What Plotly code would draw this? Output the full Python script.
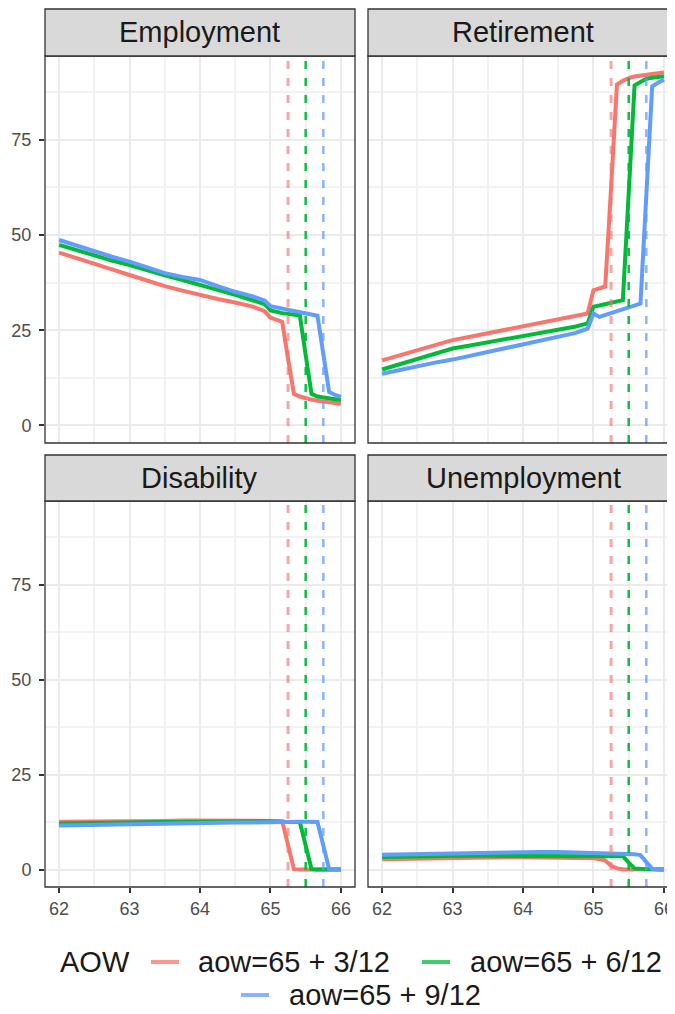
import plotly.graph_objects as go

# ---------------- data ----------------
AGE = [62.0, 62.25, 62.5, 62.75, 63.0, 63.25, 63.5, 63.75, 64.0, 64.25, 64.5, 64.75,
       64.917, 65.0, 65.083, 65.167, 65.25, 65.333, 65.417, 65.5, 65.583, 65.667,
       65.75, 65.833, 65.917, 66.0]

SERIES_NAMES = ["aow=65 + 3/12", "aow=65 + 6/12", "aow=65 + 9/12"]
AOW_AGES = [65.25, 65.5, 65.75]
PANELS = ["Employment", "Retirement", "Disability", "Unemployment"]

employment_3 = [45.4, 44.0, 42.5, 41.0, 39.5, 38.0, 36.6, 35.4, 34.2, 33.2, 32.3, 31.2,
                30.0, 28.3, 27.8, 27.2, 17.5, 8.3, 7.6, 7.1, 6.8, 6.5, 6.3, 6.1, 5.9, 5.7]
employment_6 = [47.4, 46.0, 44.6, 43.3, 42.1, 40.7, 39.4, 38.2, 37.0, 35.6, 34.3, 33.0,
                31.9, 30.2, 29.8, 29.5, 29.3, 29.1, 28.9, 18.5, 8.3, 7.6, 7.3, 7.1, 6.9, 6.7]
employment_9 = [48.7, 47.2, 45.6, 44.3, 43.0, 41.5, 40.0, 39.0, 38.2, 36.6, 35.1, 33.9,
                32.8, 31.3, 31.0, 30.6, 30.3, 30.0, 29.8, 29.5, 29.2, 28.8, 18.8, 8.8, 8.0, 7.5]

retirement_3 = [17.1, 18.4, 19.8, 21.1, 22.4, 23.3, 24.2, 25.1, 25.9, 26.8, 27.7, 28.6,
                29.4, 35.5, 36.0, 36.5, 62.5, 89.5, 90.5, 91.2, 91.6, 91.9, 92.1, 92.3, 92.5, 92.7]
retirement_6 = [14.7, 16.1, 17.5, 18.9, 20.2, 21.0, 21.8, 22.6, 23.4, 24.3, 25.1, 26.0,
                26.8, 31.2, 31.5, 31.8, 32.2, 32.5, 32.9, 61.0, 89.3, 90.2, 91.0, 91.3, 91.5, 91.7]
retirement_9 = [13.6, 14.6, 15.7, 16.5, 17.3, 18.3, 19.3, 20.2, 21.1, 22.1, 23.2, 24.3,
                25.4, 29.4, 28.5, 29.0, 29.6, 30.1, 30.6, 31.1, 31.5, 32.0, 60.5, 89.0, 90.0, 90.8]

disability_3 = [12.6, 12.6, 12.7, 12.7, 12.8, 12.8, 12.8, 12.9, 12.9, 12.9, 13.0, 13.0,
                13.0, 12.9, 12.8, 12.7, 6.4, 0.1, 0.0, 0.0, 0.0, 0.0, 0.0, 0.0, 0.0, 0.0]
disability_6 = [12.1, 12.2, 12.2, 12.3, 12.4, 12.4, 12.5, 12.5, 12.6, 12.6, 12.6, 12.7,
                12.7, 12.6, 12.6, 12.6, 12.5, 12.5, 12.5, 6.3, 0.1, 0.0, 0.0, 0.0, 0.0, 0.0]
disability_9 = [11.6, 11.7, 11.8, 11.9, 12.0, 12.1, 12.1, 12.2, 12.3, 12.3, 12.4, 12.4,
                12.5, 12.6, 12.6, 12.6, 12.6, 12.6, 12.6, 12.6, 12.6, 12.5, 6.3, 0.1, 0.0, 0.0]

unemployment_3 = [2.7, 2.8, 2.9, 3.0, 3.0, 3.1, 3.1, 3.2, 3.2, 3.2, 3.2, 3.2,
                  3.2, 3.0, 2.7, 2.4, 1.0, 0.3, 0.1, 0.1, 0.0, 0.0, 0.0, 0.0, 0.0, 0.0]
unemployment_6 = [3.3, 3.4, 3.4, 3.5, 3.5, 3.6, 3.6, 3.6, 3.7, 3.7, 3.7, 3.7,
                  3.7, 3.6, 3.6, 3.6, 3.6, 3.6, 3.5, 1.8, 0.3, 0.2, 0.2, 0.1, 0.1, 0.0]
unemployment_9 = [3.9, 4.0, 4.1, 4.2, 4.3, 4.3, 4.4, 4.5, 4.6, 4.6, 4.6, 4.5,
                  4.5, 4.4, 4.4, 4.3, 4.3, 4.2, 4.2, 4.1, 4.0, 3.8, 2.0, 0.2, 0.1, 0.0]

PANEL_DATA = {
    "Employment": [employment_3, employment_6, employment_9],
    "Retirement": [retirement_3, retirement_6, retirement_9],
    "Disability": [disability_3, disability_6, disability_9],
    "Unemployment": [unemployment_3, unemployment_6, unemployment_9],
}

X_TICKS = [62, 63, 64, 65, 66]
Y_TICKS = [0, 25, 50, 75]

# ---------------- style ----------------
OFF = 8                      # page body margin of the html page
W, H = 675 - OFF, 1014 - OFF
COLORS = ["#F8766D", "#00BA38", "#619CFF"]
VLINE_STYLE = [("rgba(248,118,109,0.65)", 3), ("rgba(0,186,56,0.95)", 2.5), ("rgba(97,156,255,0.75)", 2.5)]
FONT = "Liberation Sans, Arial, sans-serif"
GRID = "#EBEBEB"
BORDER = "#333333"


def px(x):
    return (x - OFF) / W


def py(y):
    return 1 - (y - OFF) / H


# panel geometry in window pixels: (x0, x1, strip_top, panel_top, panel_bottom)
GEOM = [
    (45, 355, 9, 56, 443),
    (368, 690, 9, 56, 443),
    (45, 355, 455, 501, 887),
    (368, 690, 455, 501, 887),
]
XRANGE_LEFT = [61.8, 66.2]
XRANGE_RIGHT = [61.8, 66.157]
YRANGE = [-4.6, 97.0]

fig = go.Figure()
shapes = []
annotations = []

for i, panel in enumerate(PANELS):
    n = i + 1
    xa = "x" if n == 1 else f"x{n}"
    ya = "y" if n == 1 else f"y{n}"
    for s, name in enumerate(SERIES_NAMES):
        fig.add_trace(go.Scatter(
            x=AGE, y=PANEL_DATA[panel][s], mode="lines", name=name,
            line=dict(color=COLORS[s], width=4), xaxis=xa, yaxis=ya,
            showlegend=False, legendgroup=name,
        ))

    x0, x1, st, pt, pb = GEOM[i]
    left = i in (0, 2)
    bottom = i in (2, 3)
    xr = XRANGE_LEFT if left else XRANGE_RIGHT
    xd = [px(x0), min(1.0, px(x1))]
    yd = [py(pb), py(pt)]

    xkey = "xaxis" if n == 1 else f"xaxis{n}"
    ykey = "yaxis" if n == 1 else f"yaxis{n}"
    fig.update_layout(**{
        xkey: dict(
            domain=xd, range=xr, anchor=ya, tickvals=X_TICKS,
            showgrid=True, gridcolor=GRID, gridwidth=2, zeroline=False,
            minor=dict(dtick=0.5, tick0=62, showgrid=True, gridcolor="#F2F2F2", gridwidth=1.5),
            showticklabels=bottom, ticks="outside" if bottom else "",
            ticklen=5, tickwidth=1.5, tickcolor=BORDER,
            tickfont=dict(family=FONT, size=18, color="#4D4D4D"),
            ticklabeloverflow="allow", showline=False, fixedrange=True,
        ),
        ykey: dict(
            domain=yd, range=YRANGE, anchor=xa, tickvals=Y_TICKS,
            showgrid=True, gridcolor=GRID, gridwidth=2, zeroline=False,
            minor=dict(tickvals=[12.5, 37.5, 62.5, 87.5], showgrid=True, gridcolor="#F2F2F2", gridwidth=1.5),
            showticklabels=left, ticks="outside" if left else "",
            ticklen=5, tickwidth=1.5, tickcolor=BORDER, ticklabelstandoff=4,
            tickfont=dict(family=FONT, size=18, color="#4D4D4D"),
            showline=False, fixedrange=True,
        ),
    })

    # AOW reference lines
    for a, (c, w) in zip(AOW_AGES, VLINE_STYLE):
        shapes.append(dict(type="line", xref=xa, yref=f"{ya} domain", x0=a, x1=a, y0=0, y1=1,
                           line=dict(color=c, width=w, dash="8px,9px"), layer="above"))

    # panel border
    shapes.append(dict(type="rect", xref="paper", yref="paper", x0=px(x0), x1=px(x1),
                       y0=py(pb), y1=py(pt), line=dict(color=BORDER, width=1.3),
                       fillcolor="rgba(0,0,0,0)", layer="above"))
    # strip
    shapes.append(dict(type="rect", xref="paper", yref="paper", x0=px(x0), x1=px(x1),
                       y0=py(pt), y1=py(st), line=dict(color=BORDER, width=1.3),
                       fillcolor="#D9D9D9", layer="above"))
    cx = (x0 + x1) / 2 if left else 523
    annotations.append(dict(text=panel, xref="paper", yref="paper", x=px(cx),
                            y=py((st + pt) / 2), xanchor="center", yanchor="middle",
                            showarrow=False, font=dict(family=FONT, size=29, color="#1A1A1A")))

# ---------------- legend (drawn manually, ggplot-style, wrapping to 2 rows) ----------------
LEG_FONT = dict(family=FONT, size=29, color="#1A1A1A")
annotations.append(dict(text="AOW", xref="paper", yref="paper", x=px(58), y=py(962),
                        xanchor="left", yanchor="middle", showarrow=False, font=LEG_FONT))
legend_items = [  # key x0, key x1, label x, row y
    (151, 179, 196, 962),
    (422, 450, 468, 962),
    (241, 269, 287, 995),
]
for (k0, k1, lx, ry), name, col in zip(legend_items, SERIES_NAMES, COLORS):
    shapes.append(dict(type="line", xref="paper", yref="paper", x0=px(k0), x1=px(k1),
                       y0=py(ry), y1=py(ry), line=dict(color=col, width=4), opacity=0.75))
    annotations.append(dict(text=name, xref="paper", yref="paper", x=px(lx), y=py(ry),
                            xanchor="left", yanchor="middle", showarrow=False, font=LEG_FONT))

fig.update_layout(
    width=W, height=H, autosize=False,
    margin=dict(l=0, r=0, t=0, b=0, pad=0),
    paper_bgcolor="white", plot_bgcolor="white",
    shapes=shapes, annotations=annotations, showlegend=False,
    font=dict(family=FONT),
)

fig.write_html("out.html")
